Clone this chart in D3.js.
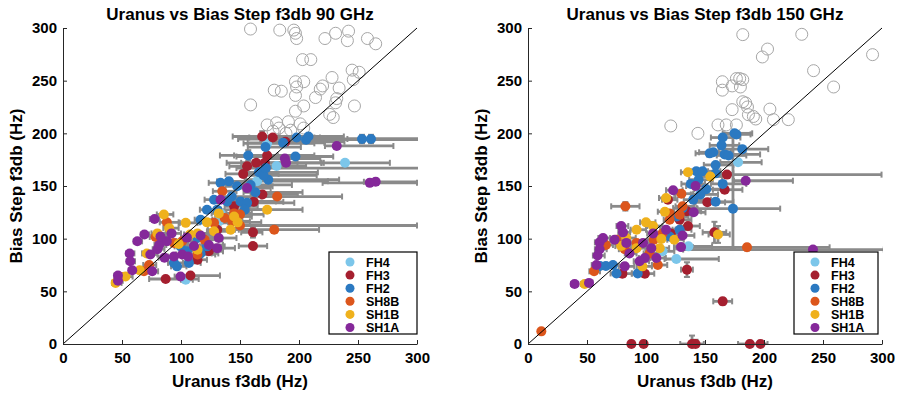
<!DOCTYPE html>
<html>
<head>
<meta charset="utf-8">
<script src="https://cdn.jsdelivr.net/npm/d3@7"></script>
<style>
  body { margin: 0; background: #fff; }
  text { font-family: "Liberation Sans", Arial, sans-serif; font-weight: bold; }
</style>
</head>
<body>
<svg id="chart" width="900" height="396"></svg>
<script>
// each point: [uranus f3db, bias step f3db, xneg, xpos, yneg, ypos]
var seriesNames = ["FH4", "FH3", "FH2", "SH8B", "SH1B", "SH1A"];
var seriesColors = ["#7cc6ea", "#a51f2f", "#2b79c1", "#dc561c", "#efb11c", "#85289a"];
var xTicks = [0, 50, 100, 150, 200, 250, 300];
var yTicks = [0, 50, 100, 150, 200, 250, 300];

// ---- 90 GHz ----
var fh4_90 = [[104,61,4,6],[133.5,124,3,5],[132,116.5,4,8],[181,169,10,25],[239,172,20,38],[164.5,154.6,10,60],[173,190.5,20,40]];
var fh3_90 = [[87,61.7,14,28],[108,65,8,25],[116,86,5,10],[123.6,88,5,12],[114,80,5,8],[130.7,108.5,8,15],[145,130.7,8,20],
  [152.7,161.5,15,30],[161.7,135,10,25],[169,142,10,30],[161,106,10,8,5,5],[161,93,12,12,3,3],[168.8,197,25,30,5,5],
  [177.8,196,20,40],[188.5,192,20,50],[173,179,40,40],[163.7,172,25,35],[171,172,20,50],[156,168.7,15,25]];
var fh2_90 = [[94,77,5,10],[96.6,73.7,5,8],[106.7,77,5,10],[116.6,86,5,15],[99.6,92.7,5,8],[122,92.7,6,15],[114,100.6,5,12],
  [116.6,118,5,10],[122,127.5,6,12],[128,137,8,20],[133.5,153,10,20],[140.6,154.4,10,25],[147.6,149.7,10,30],[143,140,8,25],
  [150.4,135.4,10,30],[156,134,10,40],[154,127.5,10,20],[159,151,10,35],[166,163,15,50],[174,156,20,60],[163,144,10,40],
  [170,160,15,45],[139,135.4,8,20],[130.7,127.5,8,15],[105,88,5,10],[157,179,12,25,5,5],[172,167,25,130],[186.5,191,30,35],
  [171.6,187,15,30],[197,178,50,32],[198,196,15,15],[206,194,10,100],[208,197,30,30],[253.4,194.6,105,60,4,4],[261,194.6,20,50,4,4]];
var sh8b_90 = [[135,145,8,12],[88,115.5,6,10],[78.5,101.6,5,10],[94,96,5,8],[73,75,5,6],[68.6,69,5,6],[49,63.6,5,6],[114,85,6,15],
  [120,99,6,15],[128,115,8,20],[137,119.6,8,15],[145,124,8,15],[150,123,8,20],[143.4,116.5,8,15],[181.5,140,20,55],
  [179,108.5,30,38,3,3],[150,112.5,2,150],[101,97.5,5,10]];
var sh1b_90 = [[85.5,123,6,8],[44.6,58,3,5],[53,64,4,6],[65,70,4,6],[71,86,4,6],[80,105,5,8],[90,110,5,8],[104,115,5,10],
  [107.6,104,5,10],[114,105,5,10],[122,115.5,6,12],[128,107,6,15],[132,124,6,12],[142,108.5,8,20],[148,115.5,8,20],
  [145,121,8,15],[114,89.5,6,10],[173,127.5,15,30],[98,95,5,8]];
var sh1a_90 = [[77.6,118.7,4,4],[63,97.5,3,4],[69,104,3,4],[56.5,86,3,4],[57,78.5,3,4],[58.7,70,3,4],[46.6,65,3,4],[46.6,60,3,4],
  [75.6,69,4,5],[74,85,4,6],[80,90,4,6],[81.5,94,4,6],[88,97.5,5,8],[86,82,5,8],[92,105,5,8],[94,83,5,10],[101,85,5,10],
  [106,83,5,10],[99.6,64,5,8],[111,93,5,12],[116.6,103,5,12],[123.6,94,6,12],[132,100.6,6,15],[130.7,91,6,15],[133.5,137,6,15],
  [156,148,10,20],[105,101,5,10],[82.6,102,5,8],[232,188,10,48],[188,176,15,30],[189,172,15,30],[260,153,40,40,3,3],[265,154,10,40,3,3]];
var open_90 = [[158.9,299],[183.7,298],[195.6,298],[197,295],[198,290],[222,290],[231,295],[242,297],[241,288],[258,290],[265,285],
  [203,270],[210,270],[179,241],[185,240],[197,249],[204,249],[198,244],[197,236],[218,242],[220,245],[228,253],[234,243],
  [232,233],[231,229],[214,234],[245,260],[251,258],[246,251],[247,226],[159,227],[204,226],[197,221],[226,218],[229,215],
  [173,208],[181,210],[191,211],[201,209],[183,205],[193,203],[204,205],[189,200],[178,202]];

// ---- 150 GHz ----
var fh4_150 = [[178,172.5,15,20],[125.7,80.7,10,36],[114,88,5,10],[136,92.7,8,20]];
var fh3_150 = [[168.6,160.8,10,131],[166.7,146.5,10,15],[152,134.5,10,15],[134.7,126,8,12],[128.5,118,6,10],[135.6,112,6,10],
  [158,106,10,10,10,10],[118.6,137,5,8],[134.7,70.6,5,5,7,7],[165,40.5,8,8,3,3],[99,66.8,5,8],[80,66.8,5,8],[121,105,5,8],
  [87.6,0,0,0,0,3],[98,0,0,0,0,3],[139,0,10,10,0,8],[142,0,0,0,0,4],[188,0,10,15,0,3],[197,0,0,0,0,3]];
var fh2_150 = [[165,196,10,15],[175,200,10,15],[176.6,199,10,12],[164,188.6,10,15],[181.6,185,20,22],[157,182,12,15],[154,181,12,15],
  [166.7,180,15,30],[170,179,10,15],[159,170,10,15],[142.6,164,8,10],[138,152,8,12],[144.6,156,8,12],[165,152,10,20],[159,135,10,15],
  [173.7,128.5,30,40,38,72],[151,147,10,15],[146,142,8,15],[140,137,8,15],[131,129,8,12],[126,121,6,10],[128.5,108.5,6,10],
  [120,102,5,10],[93,67,5,8],[75,67,5,8],[66,74,5,8],[61,74,5,8],[72,75,5,8],[159,162,10,15],[148,164,10,15]];
var sh8b_150 = [[82.5,130.7,12,12,4,4],[185.6,91.8,60,70,3,3],[11.3,12,2,2],[56,69,4,5],[110,75,5,8],[66,94,4,6],[75,99,5,6],
  [92,96,5,8],[106.5,99,5,8],[114,105,5,10],[120,118,5,10],[130,142.7,6,10],[131,130.7,6,10],[128.5,122.8,6,10],[120,124,6,10],
  [82,90,5,8],[103,86,5,8]];
var sh1b_150 = [[135.6,163,6,8],[154.5,159,8,10],[117,138.6,6,8],[116,125.6,6,8],[100,115.5,5,8],[106,112,5,8],[92,108.5,5,8],
  [83.3,100.6,5,8],[79,93,5,8],[92,91,5,8],[111.6,91,5,8],[48,57,3,4],[124,99,6,8],[161,104,8,10,8,8],[113,99.7,5,8],[97,73.7,5,8]];
var sh1a_150 = [[39.5,57,3,3],[51.7,58,3,3],[123,146,6,8],[142,150,8,10],[184.5,155,10,40],[241.5,89.6,110,60,2,2],[140.4,125,6,10],
  [131,103,6,10],[129.7,92,6,10],[79,112,4,6],[80.5,106,4,6],[60.7,96.5,4,6],[63.6,100.6,4,6],[60.7,90,4,6],[59,84,4,6],[58,75,4,6],
  [73.4,99,4,6],[83.3,96,4,6],[86,86,4,6],[97.5,96,5,8],[99,81.6,5,8],[108.8,81.6,5,8],[106,105,5,8],[117,108.5,5,8],[104.5,91,5,8],
  [94.6,78.5,5,8],[82,73.7,5,8]];
var open_150 = [[182,293.7],[232,294],[203,280],[198.6,272.5],[292,274.7],[242,259.5],[259,244],[164.7,249],[164.7,241],[173,245],
  [180,244],[176.6,252],[179.4,252],[182,251],[182,230],[184.5,228.8],[186,225],[186.8,217.7],[191,216],[193,213.6],[205,223],
  [208,213],[220.6,213],[173,222.5],[168,208],[176.6,208],[121,207],[144,200],[161,208]];

var panels = [
  { title: "Uranus vs Bias Step f3db 90 GHz", left: 63, series: [fh4_90, fh3_90, fh2_90, sh8b_90, sh1b_90, sh1a_90], open: open_90, legendX: 329 },
  { title: "Uranus vs Bias Step f3db 150 GHz", left: 528, series: [fh4_150, fh3_150, fh2_150, sh8b_150, sh1b_150, sh1a_150], open: open_150, legendX: 794 }
];

var svg = d3.select("#chart");
var plotW = 354, plotTop = 28, plotBottom = 344;
var barColor = "#8a8a8a";

panels.forEach(function(p, pi) {
  var x = d3.scaleLinear().domain([0, 300]).range([p.left, p.left + plotW]);
  var y = d3.scaleLinear().domain([0, 300]).range([plotBottom, plotTop]);
  var g = svg.append("g");

  var clipId = "clip" + pi;
  svg.append("clipPath").attr("id", clipId).append("rect")
    .attr("x", p.left).attr("y", plotTop - 2).attr("width", plotW + 1).attr("height", plotBottom - plotTop + 2);

  // outliers, open circles
  g.append("g").selectAll("circle").data(p.open).enter().append("circle")
    .attr("cx", d => x(d[0])).attr("cy", d => y(d[1])).attr("r", 6)
    .attr("fill", "none").attr("stroke", "#a6a6a6").attr("stroke-width", 1);

  // error bars
  var bars = g.append("g").attr("clip-path", "url(#" + clipId + ")")
    .attr("stroke", barColor).attr("stroke-width", 2.8).attr("fill", "none");
  p.series.forEach(function(s) {
    s.forEach(function(d) {
      var xn = d[2] || 0, xp = d[3] || 0, yn = d[4] || 0, yp = d[5] || 0;
      if (xn || xp) {
        var x0 = x(d[0] - xn), x1 = x(d[0] + xp), yy = y(d[1]);
        bars.append("line").attr("x1", x0).attr("x2", x1).attr("y1", yy).attr("y2", yy);
        [x0, x1].forEach(function(cx) {
          bars.append("line").attr("x1", cx).attr("x2", cx).attr("y1", yy - 3).attr("y2", yy + 3).attr("stroke-width", 2);
        });
      }
      if (yn || yp) {
        var y0 = y(d[1] - yn), y1 = y(d[1] + yp), xx = x(d[0]);
        bars.append("line").attr("x1", xx).attr("x2", xx).attr("y1", y0).attr("y2", y1);
        [y0, y1].forEach(function(cy) {
          bars.append("line").attr("x1", xx - 3).attr("x2", xx + 3).attr("y1", cy).attr("y2", cy).attr("stroke-width", 2);
        });
      }
    });
  });

  // markers
  p.series.forEach(function(s, si) {
    g.append("g").selectAll("circle").data(s).enter().append("circle")
      .attr("cx", d => x(d[0])).attr("cy", d => y(d[1])).attr("r", 5)
      .attr("fill", seriesColors[si]);
  });

  // 1:1 line
  g.append("line").attr("x1", x(0)).attr("y1", y(0)).attr("x2", x(300)).attr("y2", y(300))
    .attr("stroke", "#000").attr("stroke-width", 1);

  // axes
  var xAxis = g.append("g").attr("transform", "translate(0," + plotBottom + ")")
    .call(d3.axisBottom(x).tickValues(xTicks).tickSize(-4).tickSizeOuter(0).tickPadding(8));
  var yAxis = g.append("g").attr("transform", "translate(" + p.left + ",0)")
    .call(d3.axisLeft(y).tickValues(yTicks).tickSize(-4).tickSizeOuter(0).tickPadding(6));
  [xAxis, yAxis].forEach(function(a) {
    a.selectAll("path, line").attr("stroke", "#262626");
    a.selectAll("text").attr("font-size", 15).attr("fill", "#000")
      .attr("font-family", "'Liberation Sans', Arial, sans-serif").attr("font-weight", "bold");
  });

  // titles
  g.append("text").attr("x", x(150)).attr("y", 20).attr("text-anchor", "middle")
    .attr("font-size", 17).text(p.title);
  g.append("text").attr("x", x(150)).attr("y", 387).attr("text-anchor", "middle")
    .attr("font-size", 17).text("Uranus f3db (Hz)");
  g.append("text").attr("transform", "translate(" + (p.left - 41) + "," + ((plotTop + plotBottom) / 2) + ") rotate(-90)")
    .attr("text-anchor", "middle").attr("font-size", 17).text("Bias Step f3db (Hz)");

  // legend
  var lg = g.append("g").attr("transform", "translate(" + p.legendX + ",252)");
  var lw = pi === 0 ? 88 : 84;
  lg.append("rect").attr("width", lw).attr("height", 82).attr("fill", "#fff")
    .attr("stroke", "#000").attr("stroke-width", 1.2);
  seriesNames.forEach(function(name, i) {
    var row = lg.append("g").attr("transform", "translate(0," + (10 + i * 13.1) + ")");
    row.append("circle").attr("cx", 21).attr("cy", 0).attr("r", 4.5).attr("fill", seriesColors[i]);
    row.append("text").attr("x", 37).attr("y", 4.5).attr("font-size", 12.5).text(name);
  });
});
</script>
</body>
</html>
